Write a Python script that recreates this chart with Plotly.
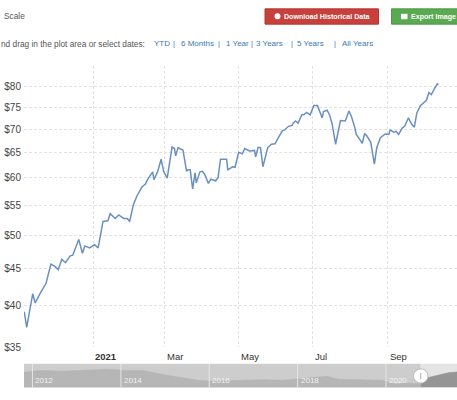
import math
import plotly.graph_objects as go

# ---------------- data ----------------
dates = [
    "2020-11-05", "2020-11-07", "2020-11-12", "2020-11-14", "2020-11-18", "2020-11-23",
    "2020-11-27", "2020-11-30", "2020-12-03", "2020-12-06", "2020-12-09", "2020-12-13",
    "2020-12-15", "2020-12-20", "2020-12-23", "2020-12-25", "2020-12-29", "2021-01-02",
    "2021-01-05", "2021-01-09", "2021-01-13", "2021-01-15", "2021-01-19", "2021-01-22",
    "2021-01-26", "2021-01-29", "2021-01-31", "2021-02-03", "2021-02-06", "2021-02-10",
    "2021-02-13", "2021-02-15", "2021-02-19", "2021-02-20", "2021-02-23", "2021-02-26",
    "2021-02-28", "2021-03-03", "2021-03-07", "2021-03-09", "2021-03-10", "2021-03-12",
    "2021-03-14", "2021-03-16", "2021-03-19", "2021-03-20", "2021-03-22", "2021-03-24",
    "2021-03-26", "2021-03-27", "2021-03-30", "2021-04-01", "2021-04-03", "2021-04-06",
    "2021-04-08", "2021-04-12", "2021-04-14", "2021-04-16", "2021-04-21", "2021-04-22",
    "2021-04-26", "2021-04-28", "2021-05-01", "2021-05-04", "2021-05-06", "2021-05-10",
    "2021-05-14", "2021-05-15", "2021-05-17", "2021-05-19", "2021-05-21", "2021-05-25",
    "2021-05-28", "2021-05-31", "2021-06-03", "2021-06-06", "2021-06-08", "2021-06-11",
    "2021-06-14", "2021-06-15", "2021-06-17", "2021-06-19", "2021-06-22", "2021-06-24",
    "2021-06-26", "2021-06-29", "2021-07-02", "2021-07-05", "2021-07-09", "2021-07-10",
    "2021-07-13", "2021-07-15", "2021-07-17", "2021-07-20", "2021-07-24", "2021-07-28",
    "2021-07-31", "2021-08-02", "2021-08-05", "2021-08-06", "2021-08-08", "2021-08-11",
    "2021-08-13", "2021-08-15", "2021-08-18", "2021-08-21", "2021-08-23", "2021-08-26",
    "2021-08-30", "2021-09-02", "2021-09-03", "2021-09-06", "2021-09-08", "2021-09-10",
    "2021-09-13", "2021-09-15", "2021-09-18", "2021-09-21", "2021-09-23", "2021-09-25",
    "2021-09-28", "2021-09-30", "2021-10-03", "2021-10-05", "2021-10-07", "2021-10-10",
    "2021-10-12", "2021-10-13",
]
prices = [
    39.2, 37.3, 41.5, 40.3, 41.5, 42.9,
    45.6, 45.3, 44.8, 46.3, 45.8, 46.8,
    46.9, 49.3, 47.2, 48.3, 48.0, 48.5,
    48.0, 52.2, 52.3, 53.5, 52.7, 53.3,
    52.7, 52.7, 52.2, 55.0, 56.6, 58.2,
    58.8, 59.7, 61.1, 59.6, 61.1, 63.6,
    61.2, 59.9, 66.1, 65.8, 64.3, 66.0,
    65.7, 65.5, 61.2, 61.5, 61.5, 57.9,
    60.9, 59.0, 61.1, 61.2, 60.6, 58.9,
    59.7, 59.4, 60.0, 63.6, 63.6, 61.5,
    62.1, 62.0, 65.0, 64.7, 65.8, 65.3,
    65.4, 64.1, 66.0, 66.0, 62.1, 66.0,
    66.7, 66.8, 68.2, 69.6, 69.8, 70.6,
    70.8, 71.3, 71.8, 71.3, 73.2, 73.3,
    73.8, 73.2, 75.4, 75.4, 72.5, 74.0,
    74.3, 73.2, 71.3, 66.7, 71.9, 71.8,
    74.1, 72.9, 70.2, 68.8, 68.1, 66.9,
    69.0, 68.4, 67.1, 62.6, 66.0, 68.1,
    68.9, 68.8, 69.8, 69.3, 69.5, 68.8,
    70.2, 70.6, 72.5, 71.0, 70.4, 73.6,
    75.4, 75.9, 76.7, 78.6, 78.1, 79.8,
    80.8, 80.6,
]

y_tick_values = [35, 40, 45, 50, 55, 60, 65, 70, 75, 80]
y_tick_labels = ["$35", "$40", "$45", "$50", "$55", "$60", "$65", "$70", "$75", "$80"]
x_label_dates = ["2021-01-01", "2021-03-01", "2021-05-01", "2021-07-01", "2021-09-01"]
x_label_texts = ["<b>2021</b>", "Mar", "May", "Jul", "Sep"]

nav_dates_hist = [
    "2011-10-23", "2012-03-01", "2012-09-01", "2013-03-01", "2013-09-01", "2014-03-01",
    "2014-07-01", "2014-12-01", "2015-06-01", "2015-10-01", "2016-02-01", "2016-08-01",
    "2017-03-01", "2017-09-01", "2018-03-01", "2018-09-01", "2018-12-01", "2019-06-01",
    "2019-12-01", "2020-03-20", "2020-06-01", "2020-10-14",
]
nav_values_hist = [
    71, 79, 75, 79, 84, 79,
    79, 61, 43, 33, 29, 33,
    36, 33, 43, 52, 38, 36,
    33, 15, 20, 17,
]
nav_dates_sel = ["2020-10-14", "2020-11-05", "2021-01-01", "2021-04-01", "2021-06-01", "2021-08-10"]
nav_values_sel = [17, 39, 48, 60, 68, 72]
nav_year_dates = ["2012-01-01", "2014-01-01", "2016-01-01", "2018-01-01", "2020-01-01"]
nav_year_labels = ["2012", "2014", "2016", "2018", "2020"]

range_links = ["YTD", "6 Months", "1 Year", "3 Years", "5 Years", "All Years"]
range_link_px = [152, 179, 224, 254, 295, 340]
range_sep_px = [173.5, 219, 251.5, 291.5, 334.5]

# ---------------- layout helpers ----------------
W, H = 457, 400
ML = 24
PW = W - ML


def px(x):
    return (x - ML) / PW


def py(y):
    return (H - y) / H


main_dom = [py(352.7), py(67)]
nav_dom = [py(393.3), py(369.3)]

LINE = "#6a90c0"
GRID = "#e2e2e2"
TXT = "#444444"
FONT = "Liberation Sans, Arial, sans-serif"

fig = go.Figure()

fig.add_trace(go.Scatter(
    x=dates, y=prices, mode="lines",
    line=dict(color=LINE, width=1.5),
    xaxis="x", yaxis="y", hoverinfo="skip", showlegend=False,
))

fig.add_trace(go.Scatter(
    x=nav_dates_hist, y=nav_values_hist, mode="lines", fill="tozeroy",
    line=dict(color="#b2b2b2", width=0.5), fillcolor="#b6b6b6",
    xaxis="x2", yaxis="y2", hoverinfo="skip", showlegend=False,
))
fig.add_trace(go.Scatter(
    x=nav_dates_sel, y=nav_values_sel, mode="lines", fill="tozeroy",
    line=dict(color="#8c8c8c", width=0.5), fillcolor="#959595",
    xaxis="x2", yaxis="y2", hoverinfo="skip", showlegend=False,
))

shapes = []
annotations = []

# navigator backgrounds
shapes.append(dict(type="rect", xref="paper", yref="paper", x0=px(24), x1=px(420.7),
                   y0=nav_dom[0], y1=nav_dom[1], fillcolor="#cdcdcd", line_width=0, layer="below"))
shapes.append(dict(type="rect", xref="paper", yref="paper", x0=px(420.7), x1=px(457),
                   y0=nav_dom[0], y1=nav_dom[1], fillcolor="#e4e4e4", line_width=0, layer="below"))
# navigator year separators + labels
for d, lab in zip(nav_year_dates, nav_year_labels):
    shapes.append(dict(type="line", xref="x2", yref="paper", x0=d, x1=d,
                       y0=nav_dom[0], y1=nav_dom[1], line=dict(color="#e6e6e6", width=1)))
    annotations.append(dict(x=d, xref="x2", y=py(386.7), yref="paper", text=lab,
                            showarrow=False, xanchor="left", yanchor="middle", xshift=1,
                            font=dict(family=FONT, size=8, color="#f2f2f2")))
# handle
shapes.append(dict(type="circle", xref="paper", yref="paper",
                   x0=px(413.5), x1=px(428), y0=py(389), y1=py(374.5),
                   fillcolor="white", line=dict(color="#bbbbbb", width=1)))
shapes.append(dict(type="line", xref="paper", yref="paper", x0=px(420.7), x1=px(420.7),
                   y0=py(385), y1=py(378.5), line=dict(color="#aaaaaa", width=1)))

# x labels of main chart
for d, lab in zip(x_label_dates, x_label_texts):
    annotations.append(dict(x=d, xref="x", y=main_dom[0], yref="paper", text=lab,
                            showarrow=False, xanchor="left", yanchor="top", xshift=0, yshift=-2,
                            font=dict(family=FONT, size=9.5, color="#333333")))

# header: Scale
annotations.append(dict(x=px(2), y=py(16.5), xref="paper", yref="paper", text="Scale",
                        showarrow=False, xanchor="left", yanchor="middle",
                        font=dict(family=FONT, size=8.3, color="#555555")))
# red button
shapes.append(dict(type="rect", xref="paper", yref="paper", x0=px(265), x1=px(378.5),
                   y0=py(24.5), y1=py(9), fillcolor="#c8403b", line=dict(color="#b8342f", width=1)))
shapes.append(dict(type="circle", xref="paper", yref="paper", x0=px(274.5), x1=px(280.5),
                   y0=py(19.5), y1=py(13.5), fillcolor="white", line_width=0))
annotations.append(dict(x=px(282), y=py(16.8), xref="paper", yref="paper",
                        text="<b>Download Historical Data</b>", showarrow=False,
                        xanchor="left", yanchor="middle",
                        font=dict(family=FONT, size=7.1, color="white")))
# green button
shapes.append(dict(type="rect", xref="paper", yref="paper", x0=px(391.5), x1=px(458),
                   y0=py(24.5), y1=py(9), fillcolor="#5aaa52", line=dict(color="#4c9a46", width=1)))
shapes.append(dict(type="rect", xref="paper", yref="paper", x0=px(401), x1=px(407.5),
                   y0=py(19.5), y1=py(14), fillcolor="white", line_width=0))
annotations.append(dict(x=px(409), y=py(16.8), xref="paper", yref="paper",
                        text="<b>Export Image</b>", showarrow=False,
                        xanchor="left", yanchor="middle",
                        font=dict(family=FONT, size=7.1, color="white")))

# date selector line
annotations.append(dict(x=px(-1), y=py(44.5), xref="paper", yref="paper",
                        text="nd drag in the plot area or select dates:", showarrow=False,
                        xanchor="left", yanchor="middle",
                        font=dict(family=FONT, size=8.3, color="#555555")))
for lab, xp in zip(range_links, range_link_px):
    annotations.append(dict(x=px(xp), y=py(44.5), xref="paper", yref="paper", text=lab,
                            showarrow=False, xanchor="left", yanchor="middle",
                            font=dict(family=FONT, size=8, color="#3a78b5")))
for xp in range_sep_px:
    annotations.append(dict(x=px(xp), y=py(44.5), xref="paper", yref="paper", text="|",
                            showarrow=False, xanchor="center", yanchor="middle",
                            font=dict(family=FONT, size=7.5, color="#3a78b5")))

fig.update_layout(
    width=W, height=H,
    margin=dict(l=ML, r=0, t=0, b=0, pad=0),
    paper_bgcolor="white", plot_bgcolor="white",
    showlegend=False,
    font=dict(family=FONT, color=TXT),
    xaxis=dict(
        type="date", domain=[0, 1], anchor="y",
        range=["2020-11-04 19:00", "2021-10-28 05:00"],
        tickvals=x_label_dates, showticklabels=False, ticks="",
        showgrid=True, gridcolor=GRID, griddash="3px,2px", gridwidth=1,
        zeroline=False, showline=False, fixedrange=True,
    ),
    yaxis=dict(
        type="log", domain=main_dom, anchor="x",
        range=[math.log10(35), math.log10(85.5)],
        tickvals=y_tick_values, ticktext=y_tick_labels,
        tickfont=dict(family=FONT, size=10, color=TXT),
        ticks="", ticklabelstandoff=2,
        showgrid=True, gridcolor=GRID, griddash="3px,2px", gridwidth=1,
        zeroline=False, showline=False, fixedrange=True,
    ),
    xaxis2=dict(
        type="date", domain=[0, 1], anchor="y2", fixedrange=True,
        range=["2011-10-23", "2021-08-10"],
        showticklabels=False, showgrid=False, zeroline=False, showline=False, ticks="",
    ),
    yaxis2=dict(
        domain=nav_dom, anchor="x2", range=[0, 110], fixedrange=True,
        showticklabels=False, showgrid=False, zeroline=False, showline=False, ticks="",
    ),
    shapes=shapes,
    annotations=annotations,
)

fig.write_html(
    "out.html",
    config={"displayModeBar": False},
    post_script=(
        "document.body.style.margin='0px';"
        "document.body.style.overflow='hidden';"
        "document.documentElement.style.overflow='hidden';"
    ),
)
